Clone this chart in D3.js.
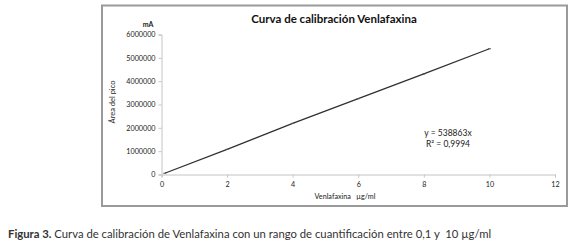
<!DOCTYPE html>
<html><head><meta charset="utf-8">
<script src="https://cdn.jsdelivr.net/npm/d3@7"></script>
<style>body{margin:0;background:#fff}svg{display:block}</style>
</head><body>
<svg id="c" width="575" height="245"></svg>
<script>
const concentrations = [0.1, 2, 4, 6, 8, 10];
const areas = [53886, 1077726, 2190000, 3250000, 4310904, 5388630];
const xTicks = [0, 2, 4, 6, 8, 10, 12];
const yTicks = [0, 1000000, 2000000, 3000000, 4000000, 5000000, 6000000];
const chartTitle = "Curva de calibración Venlafaxina";
const equationLines = ["y = 538863x", "R² = 0,9994"];

const svg = d3.select("#c");
const font = "Lato, 'Open Sans', sans-serif";

svg.append("rect").attr("x",102).attr("y",5.5).attr("width",465).attr("height",200.5)
  .attr("fill","#fff").attr("stroke","#9a9a9a").attr("stroke-width",2);

const x = d3.scaleLinear().domain([0,12]).range([161.5,555]);
const y = d3.scaleLinear().domain([0,6000000]).range([174.5,34.5]);

const gx = svg.append("g").attr("transform","translate(0,174.5)")
  .call(d3.axisBottom(x).tickValues(xTicks).tickSize(3).tickPadding(4).tickFormat(d3.format("d")));
const gy = svg.append("g").attr("transform","translate(161.5,0)")
  .call(d3.axisLeft(y).tickValues(yTicks).tickSize(3).tickPadding(3).tickFormat(d3.format("d")));
[gx,gy].forEach(g=>{
  g.selectAll("path,line").attr("stroke","#c4c4c4");
  g.selectAll("text").attr("font-family",font).attr("font-size",7.2).attr("fill","#222");
});

const pts = concentrations.map((c,i)=>[c,areas[i]]);
svg.append("path").datum(pts)
  .attr("d", d3.line().x(d=>x(d[0])).y(d=>y(d[1])))
  .attr("fill","none").attr("stroke","#303030").attr("stroke-width",1.3);
svg.append("g").selectAll("line").data(pts).join("line")
  .attr("x1",d=>x(d[0])-1.5).attr("x2",d=>x(d[0])+1.5)
  .attr("y1",d=>y(d[1])).attr("y2",d=>y(d[1]))
  .attr("stroke","#555").attr("stroke-width",1);

svg.append("text").attr("x",334).attr("y",23).attr("text-anchor","middle")
  .attr("font-family",font).attr("font-weight","bold").attr("font-size",11.5).attr("fill","#111")
  .text(chartTitle);
svg.append("text").attr("x",148).attr("y",27).attr("text-anchor","middle")
  .attr("font-family",font).attr("font-weight","bold").attr("font-size",7).attr("fill","#222").text("mA");
svg.append("text").attr("transform","translate(115,102) rotate(-90)").attr("text-anchor","middle")
  .attr("font-family",font).attr("font-size",7.5).attr("fill","#222").text("Área del pico");
svg.append("text").attr("x",345).attr("y",199).attr("text-anchor","middle")
  .attr("font-family",font).attr("font-size",7.2).attr("fill","#222").attr("xml:space","preserve")
  .text("Venlafaxina   µg/ml");
svg.append("g").selectAll("text").data(equationLines).join("text")
  .attr("x",448).attr("y",(d,i)=>136+i*11).attr("text-anchor","middle")
  .attr("font-family",font).attr("font-size",8.5).attr("fill","#222").text(d=>d);

const cap = svg.append("text").attr("x",8).attr("y",238)
  .attr("font-family",font).attr("font-size",11.3).attr("fill","#333");
cap.append("tspan").attr("font-weight","bold").text("Figura 3.");
cap.append("tspan").text(" Curva de calibración de Venlafaxina con un rango de cuantificación entre 0,1 y  10 µg/ml")
  .attr("xml:space","preserve");
</script>
</body></html>
